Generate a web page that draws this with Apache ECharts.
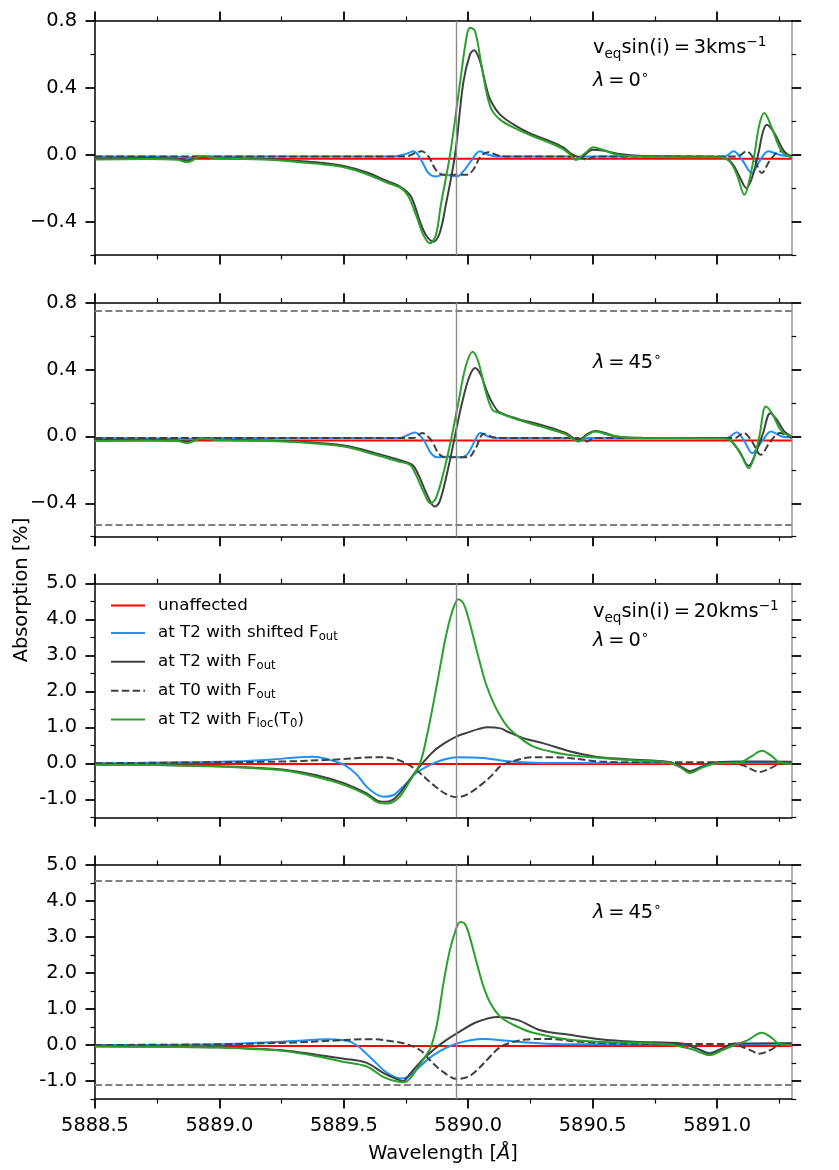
<!DOCTYPE html>
<html>
<head>
<meta charset="utf-8">
<script src="https://cdn.jsdelivr.net/npm/echarts@6/dist/echarts.min.js"></script>
<style>
html, body { margin: 0; padding: 0; background: #fff; }
#chart { width: 839px; height: 1170px; }
</style>
</head>
<body>
<div id="chart"></div>
<script>
// wavelength axis (Angstrom)
var wlMin = 5888.5, wlMax = 5891.3
var wlMajor = [5888.5, 5889.0, 5889.5, 5890.0, 5890.5, 5891.0]
var wlMinor = [5888.75, 5889.25, 5889.75, 5890.25, 5890.75, 5891.25]
var lineCentre = 5889.95

// absorption axes, 3 km/s panels and 20 km/s panels
var smallRange = [-0.6, 0.8]
var smallMajor = [-0.4, 0.0, 0.4, 0.8]
var smallMinor = [-0.6, -0.2, 0.2, 0.6]
var bigRange = [-1.5, 5.0]
var bigMajor = [-1, 0, 1, 2, 3, 4, 5]
var bigMinor = [-1.5, -0.5, 0.5, 1.5, 2.5, 3.5, 4.5]

// extreme levels of the lambda=0 panels, repeated as dashed guides at lambda=45
var p2Levels = [0.752, -0.526]
var p4Levels = [4.56, -1.11]

// ---- panel 1: 3 km/s, lambda = 0
var p1Red = [[5888.5,-0.024],[5891.3,-0.024]]
var p1Blue = [[5888.5,-0.01],[5888.85,-0.012],[5888.87,-0.02],[5888.9,-0.01],[5889.7,-0.01],[5889.75,0.005],[5889.78,0.02],[5889.81,-0.03],[5889.84,-0.11],[5889.87,-0.13],[5889.9,-0.12],[5889.93,-0.125],[5889.954,-0.13],[5889.98,-0.1],[5890.01,-0.04],[5890.047,0.02],[5890.08,0.0],[5890.114,-0.01],[5890.4,-0.01],[5890.436,-0.03],[5890.47,-0.01],[5891.03,-0.01],[5891.066,0.02],[5891.1,-0.03],[5891.14,-0.11],[5891.17,-0.04],[5891.206,0.02],[5891.25,0.0],[5891.3,-0.01]]
var p1Black = [[5888.5,-0.022],[5888.7,-0.02],[5888.83,-0.025],[5888.87,-0.035],[5888.93,-0.012],[5888.98,-0.018],[5889.1,-0.022],[5889.2,-0.025],[5889.32,-0.038],[5889.42,-0.05],[5889.5,-0.068],[5889.59,-0.105],[5889.67,-0.155],[5889.73,-0.195],[5889.77,-0.25],[5889.806,-0.4],[5889.83,-0.48],[5889.86,-0.52],[5889.885,-0.47],[5889.91,-0.3],[5889.947,0.0],[5889.98,0.43],[5890.007,0.6],[5890.023,0.625],[5890.045,0.57],[5890.07,0.42],[5890.088,0.33],[5890.128,0.24],[5890.2,0.165],[5890.26,0.12],[5890.33,0.08],[5890.38,0.045],[5890.42,0.0],[5890.45,-0.015],[5890.5,0.03],[5890.54,0.025],[5890.6,0.006],[5890.7,-0.008],[5890.9,-0.012],[5891.02,-0.015],[5891.06,-0.05],[5891.09,-0.13],[5891.118,-0.2],[5891.14,-0.14],[5891.165,0.0],[5891.185,0.14],[5891.2,0.18],[5891.23,0.13],[5891.27,0.02],[5891.3,-0.012]]
var p1Dash = [[5888.5,-0.01],[5889.75,-0.01],[5889.79,0.012],[5889.813,0.02],[5889.84,-0.01],[5889.87,-0.09],[5889.9,-0.12],[5889.95,-0.12],[5889.994,-0.12],[5890.02,-0.09],[5890.05,-0.01],[5890.08,0.015],[5890.12,-0.005],[5890.15,-0.01],[5890.44,-0.01],[5890.476,-0.03],[5890.51,-0.01],[5891.08,-0.01],[5891.118,0.02],[5891.15,-0.03],[5891.18,-0.11],[5891.21,-0.04],[5891.253,0.02],[5891.3,-0.01]]
var p1Green = [[5888.5,-0.028],[5888.7,-0.025],[5888.83,-0.03],[5888.87,-0.045],[5888.93,-0.008],[5888.98,-0.02],[5889.1,-0.026],[5889.2,-0.03],[5889.32,-0.045],[5889.42,-0.058],[5889.5,-0.075],[5889.59,-0.115],[5889.67,-0.165],[5889.73,-0.2],[5889.76,-0.25],[5889.79,-0.36],[5889.82,-0.48],[5889.846,-0.53],[5889.87,-0.48],[5889.89,-0.3],[5889.927,0.0],[5889.967,0.43],[5889.994,0.71],[5890.007,0.76],[5890.027,0.74],[5890.054,0.53],[5890.088,0.29],[5890.128,0.21],[5890.2,0.15],[5890.26,0.11],[5890.33,0.07],[5890.38,0.035],[5890.41,0.0],[5890.43,-0.03],[5890.47,0.01],[5890.503,0.044],[5890.54,0.03],[5890.6,0.0],[5890.7,-0.01],[5890.9,-0.015],[5891.01,-0.015],[5891.05,-0.04],[5891.08,-0.12],[5891.11,-0.24],[5891.13,-0.15],[5891.15,0.0],[5891.17,0.18],[5891.19,0.25],[5891.22,0.16],[5891.26,0.02],[5891.3,-0.015]]

// ---- panel 2: 3 km/s, lambda = 45
var p2Red = [[5888.5,-0.024],[5891.3,-0.024]]
var p2Blue = [[5888.5,-0.01],[5888.85,-0.012],[5888.87,-0.018],[5888.9,-0.01],[5889.72,-0.01],[5889.76,0.01],[5889.786,0.024],[5889.82,-0.02],[5889.85,-0.1],[5889.876,-0.125],[5889.92,-0.12],[5889.972,-0.125],[5890.0,-0.1],[5890.025,-0.03],[5890.049,0.02],[5890.08,0.0],[5890.12,-0.01],[5890.41,-0.01],[5890.443,-0.03],[5890.48,-0.01],[5891.04,-0.01],[5891.079,0.025],[5891.11,-0.03],[5891.141,-0.1],[5891.18,-0.03],[5891.217,0.03],[5891.26,0.0],[5891.3,-0.005]]
var p2Black = [[5888.5,-0.022],[5888.7,-0.02],[5888.83,-0.024],[5888.87,-0.032],[5888.93,-0.014],[5888.98,-0.018],[5889.1,-0.022],[5889.2,-0.025],[5889.32,-0.032],[5889.5,-0.055],[5889.627,-0.1],[5889.72,-0.14],[5889.775,-0.17],[5889.8,-0.23],[5889.835,-0.35],[5889.865,-0.42],[5889.885,-0.39],[5889.915,-0.22],[5889.945,-0.01],[5889.975,0.2],[5890.005,0.36],[5890.028,0.41],[5890.05,0.37],[5890.075,0.27],[5890.097,0.2],[5890.125,0.145],[5890.2,0.105],[5890.29,0.07],[5890.387,0.024],[5890.443,-0.02],[5890.48,0.015],[5890.512,0.033],[5890.55,0.02],[5890.595,0.0],[5890.7,-0.008],[5891.03,-0.01],[5891.051,-0.02],[5891.09,-0.09],[5891.127,-0.176],[5891.155,-0.1],[5891.185,0.02],[5891.214,0.139],[5891.24,0.1],[5891.27,0.03],[5891.3,0.0]]
var p2Dash = [[5888.5,-0.01],[5889.78,-0.01],[5889.814,0.02],[5889.85,-0.02],[5889.88,-0.1],[5889.904,-0.125],[5889.95,-0.125],[5890.0,-0.125],[5890.03,-0.07],[5890.063,0.016],[5890.1,-0.005],[5890.14,-0.01],[5890.44,-0.01],[5890.477,-0.03],[5890.51,-0.01],[5891.07,-0.01],[5891.107,0.02],[5891.14,-0.03],[5891.176,-0.11],[5891.21,-0.04],[5891.252,0.02],[5891.3,-0.01]]
var p2Green = [[5888.5,-0.028],[5888.7,-0.025],[5888.83,-0.028],[5888.87,-0.04],[5888.93,-0.012],[5888.98,-0.02],[5889.1,-0.025],[5889.2,-0.028],[5889.32,-0.035],[5889.5,-0.06],[5889.627,-0.11],[5889.72,-0.15],[5889.765,-0.17],[5889.79,-0.23],[5889.82,-0.33],[5889.848,-0.4],[5889.87,-0.37],[5889.9,-0.22],[5889.931,-0.02],[5889.96,0.2],[5889.99,0.42],[5890.018,0.507],[5890.04,0.45],[5890.07,0.27],[5890.097,0.16],[5890.125,0.14],[5890.2,0.1],[5890.29,0.06],[5890.387,0.016],[5890.443,-0.03],[5890.48,0.01],[5890.512,0.03],[5890.55,0.015],[5890.595,0.0],[5890.7,-0.01],[5891.02,-0.012],[5891.06,-0.03],[5891.1,-0.12],[5891.127,-0.19],[5891.15,-0.12],[5891.17,0.0],[5891.196,0.179],[5891.22,0.14],[5891.26,0.03],[5891.3,0.0]]

// ---- panel 3: 20 km/s, lambda = 0
var p3Red = [[5888.5,-0.02],[5891.3,-0.02]]
var p3Blue = [[5888.5,0.0],[5889.0,0.04],[5889.2,0.1],[5889.32,0.17],[5889.37,0.18],[5889.42,0.14],[5889.46,0.06],[5889.5,-0.04],[5889.55,-0.3],[5889.59,-0.64],[5889.63,-0.86],[5889.66,-0.93],[5889.7,-0.88],[5889.726,-0.73],[5889.76,-0.5],[5889.79,-0.27],[5889.86,0.0],[5889.91,0.12],[5889.954,0.17],[5890.06,0.15],[5890.17,0.05],[5890.3,0.01],[5890.8,0.01],[5890.85,-0.08],[5890.89,-0.22],[5890.94,-0.08],[5891.0,0.0],[5891.3,0.02]]
var p3Black = [[5888.5,-0.035],[5888.75,-0.045],[5889.0,-0.08],[5889.13,-0.12],[5889.26,-0.18],[5889.39,-0.33],[5889.5,-0.55],[5889.59,-0.83],[5889.64,-1.05],[5889.67,-1.07],[5889.7,-1.0],[5889.726,-0.82],[5889.76,-0.5],[5889.806,-0.08],[5889.86,0.33],[5889.91,0.58],[5889.954,0.75],[5890.0,0.86],[5890.04,0.95],[5890.08,1.0],[5890.13,0.97],[5890.155,0.89],[5890.22,0.7],[5890.3,0.56],[5890.4,0.35],[5890.47,0.24],[5890.53,0.17],[5890.67,0.1],[5890.8,0.04],[5890.85,-0.07],[5890.89,-0.22],[5890.94,-0.1],[5891.0,0.03],[5891.1,0.05],[5891.3,0.04]]
var p3Dash = [[5888.5,0.0],[5889.0,0.03],[5889.26,0.05],[5889.45,0.1],[5889.64,0.17],[5889.7,0.13],[5889.75,0.0],[5889.79,-0.18],[5889.86,-0.6],[5889.91,-0.85],[5889.954,-0.94],[5890.0,-0.85],[5890.06,-0.55],[5890.1,-0.3],[5890.13,-0.08],[5890.2,0.1],[5890.26,0.17],[5890.33,0.17],[5890.4,0.15],[5890.53,0.05],[5890.67,0.03],[5891.0,0.03],[5891.1,-0.05],[5891.17,-0.24],[5891.22,-0.12],[5891.25,-0.02],[5891.3,0.0]]
var p3Green = [[5888.5,-0.04],[5888.75,-0.05],[5889.0,-0.09],[5889.13,-0.13],[5889.26,-0.2],[5889.39,-0.38],[5889.5,-0.6],[5889.59,-0.87],[5889.64,-1.1],[5889.67,-1.12],[5889.7,-1.07],[5889.726,-0.92],[5889.76,-0.55],[5889.806,0.0],[5889.835,0.8],[5889.86,1.67],[5889.885,2.6],[5889.91,3.52],[5889.935,4.2],[5889.961,4.56],[5889.98,4.45],[5890.0,4.05],[5890.02,3.52],[5890.045,2.85],[5890.07,2.23],[5890.1,1.7],[5890.13,1.3],[5890.16,1.0],[5890.2,0.75],[5890.26,0.47],[5890.33,0.33],[5890.4,0.24],[5890.53,0.15],[5890.67,0.08],[5890.8,0.03],[5890.85,-0.1],[5890.89,-0.27],[5890.94,-0.12],[5891.0,0.0],[5891.09,0.02],[5891.14,0.2],[5891.18,0.35],[5891.22,0.2],[5891.25,0.03],[5891.3,-0.01]]

// ---- panel 4: 20 km/s, lambda = 45
var p4Red = [[5888.5,-0.03],[5891.3,-0.03]]
var p4Blue = [[5888.5,0.0],[5889.0,0.02],[5889.32,0.12],[5889.43,0.16],[5889.5,0.13],[5889.53,0.08],[5889.56,-0.05],[5889.59,-0.24],[5889.63,-0.5],[5889.66,-0.7],[5889.7,-0.88],[5889.73,-0.93],[5889.76,-0.88],[5889.79,-0.7],[5889.86,-0.28],[5889.954,0.04],[5890.06,0.17],[5890.17,0.11],[5890.26,0.06],[5890.4,0.02],[5890.86,0.02],[5890.92,-0.1],[5890.97,-0.22],[5891.02,-0.1],[5891.07,0.02],[5891.3,0.04]]
var p4Black = [[5888.5,-0.035],[5888.75,-0.045],[5889.0,-0.065],[5889.13,-0.1],[5889.26,-0.15],[5889.39,-0.27],[5889.5,-0.38],[5889.59,-0.49],[5889.66,-0.78],[5889.72,-0.97],[5889.74,-1.0],[5889.76,-0.85],[5889.79,-0.61],[5889.82,-0.38],[5889.86,-0.14],[5889.9,0.08],[5889.954,0.32],[5890.035,0.64],[5890.12,0.78],[5890.2,0.69],[5890.29,0.41],[5890.4,0.29],[5890.53,0.16],[5890.67,0.09],[5890.86,0.04],[5890.92,-0.1],[5890.97,-0.24],[5891.02,-0.1],[5891.07,0.04],[5891.3,0.05]]
var p4Dash = [[5888.5,0.0],[5889.0,0.02],[5889.3,0.07],[5889.45,0.12],[5889.61,0.16],[5889.7,0.1],[5889.75,0.03],[5889.806,-0.14],[5889.85,-0.45],[5889.89,-0.7],[5889.954,-0.94],[5890.0,-0.88],[5890.035,-0.7],[5890.08,-0.38],[5890.13,-0.05],[5890.18,0.08],[5890.23,0.15],[5890.32,0.17],[5890.45,0.09],[5890.6,0.04],[5890.8,0.03],[5891.05,0.03],[5891.12,-0.1],[5891.17,-0.24],[5891.22,-0.12],[5891.25,0.0],[5891.3,0.02]]
var p4Green = [[5888.5,-0.04],[5888.75,-0.05],[5889.0,-0.07],[5889.13,-0.11],[5889.26,-0.17],[5889.39,-0.31],[5889.5,-0.47],[5889.59,-0.59],[5889.66,-0.89],[5889.72,-1.02],[5889.745,-1.03],[5889.77,-0.9],[5889.79,-0.7],[5889.82,-0.4],[5889.85,-0.05],[5889.875,0.6],[5889.9,1.7],[5889.925,2.6],[5889.95,3.2],[5889.968,3.42],[5889.985,3.38],[5890.0,3.15],[5890.035,2.26],[5890.06,1.65],[5890.09,1.15],[5890.13,0.78],[5890.2,0.5],[5890.26,0.34],[5890.4,0.15],[5890.53,0.09],[5890.8,0.02],[5890.9,-0.12],[5890.97,-0.28],[5891.02,-0.15],[5891.07,0.0],[5891.12,0.12],[5891.18,0.34],[5891.22,0.2],[5891.25,0.03],[5891.3,0.0]]

var names = ['unaffected', 'at T2 with shifted F_out', 'at T2 with F_out', 'at T0 with F_out', 'at T2 with F_loc(T_0)']
var legendRich = {
    'unaffected': '{g|}{t|unaffected}',
    'at T2 with shifted F_out': '{g|}{t|at T2 with shifted F}{s|out}',
    'at T2 with F_out': '{g|}{t|at T2 with F}{s|out}',
    'at T0 with F_out': '{g|}{t|at T0 with F}{s|out}',
    'at T2 with F_loc(T_0)': '{g|}{t|at T2 with F}{s|loc}{t|(T}{s|0}{t|)}'
}

var FONT = 'DejaVu Sans'
var colors = ['#ff0000', '#1e90ff', '#404040', '#404040', '#2ca02c']
var panels = [
    {curves: [p1Red, p1Blue, p1Black, p1Dash, p1Green], big: false, levels: null},
    {curves: [p2Red, p2Blue, p2Black, p2Dash, p2Green], big: false, levels: p2Levels},
    {curves: [p3Red, p3Blue, p3Black, p3Dash, p3Green], big: true, levels: null},
    {curves: [p4Red, p4Blue, p4Black, p4Dash, p4Green], big: true, levels: p4Levels}
]
var gridTops = [21, 302.7, 583.3, 865]

var grids = [], xAxes = [], yAxes = [], series = []

function tickAxis(kind, g, pos, range, ticks, long, line, label) {
    var a = {
        gridIndex: g, type: 'value', position: pos, min: range[0], max: range[1],
        splitLine: {show: false},
        axisLine: line ? {show: true, onZero: false, lineStyle: {color: line, width: 1.5}} : {show: false, onZero: false},
        axisTick: {show: true, inside: false, customValues: ticks, length: long ? 9.5 : 4.5,
                   lineStyle: {color: '#000', width: long ? 1.8 : 1.2}},
        axisLabel: {show: false}
    }
    if (label) {
        a.axisLabel = {show: true, customValues: ticks, formatter: label,
                       margin: kind == 'x' ? 17 : 18, padding: kind == 'x' ? 0 : [4, 0, 0, 0],
                       color: '#000', fontSize: 19.4, fontFamily: FONT}
    }
    return a
}

panels.forEach(function (p, g) {
    grids.push({left: 95, right: 47.3, top: gridTops[g], height: 234})
    var yr = p.big ? bigRange : smallRange
    var yMaj = p.big ? bigMajor : smallMajor
    var yMin = p.big ? bigMinor : smallMinor
    var xLab = g == 3 ? function (v) { return v.toFixed(1) } : null
    var yLab = p.big ? function (v) { return v.toFixed(1) }
                     : function (v) { return v.toFixed(1).replace('-', '\u2212') }
    xAxes.push(tickAxis('x', g, 'bottom', [wlMin, wlMax], wlMajor, true, '#000', xLab))
    xAxes.push(tickAxis('x', g, 'bottom', [wlMin, wlMax], wlMinor, false, null, null))
    xAxes.push(tickAxis('x', g, 'top', [wlMin, wlMax], wlMajor, true, '#000', null))
    xAxes.push(tickAxis('x', g, 'top', [wlMin, wlMax], wlMinor, false, null, null))
    yAxes.push(tickAxis('y', g, 'left', yr, yMaj, true, '#000', yLab))
    yAxes.push(tickAxis('y', g, 'left', yr, yMin, false, null, null))
    yAxes.push(tickAxis('y', g, 'right', yr, yMaj, true, '#9a9a9a', null))
    yAxes.push(tickAxis('y', g, 'right', yr, yMin, false, null, null))

    p.curves.forEach(function (c, k) {
        var s = {
            type: 'line', name: names[k], xAxisIndex: g * 4, yAxisIndex: g * 4,
            data: c, symbol: 'none', showSymbol: false, smooth: 0.35,
            lineStyle: {color: colors[k], width: 2, type: k == 3 ? [7.5, 3.3] : 'solid'},
            itemStyle: {color: colors[k]},
            emphasis: {disabled: true}
        }
        if (k == 4) {
            var ml = [{xAxis: lineCentre, lineStyle: {color: '#8c8c8c', width: 1.4, type: 'solid'}}]
            if (p.levels) p.levels.forEach(function (v) {
                ml.push({yAxis: v, lineStyle: {color: '#808080', width: 2, type: [7, 3.3]}})
            })
            s.markLine = {silent: true, symbol: ['none', 'none'], label: {show: false}, data: ml}
        }
        series.push(s)
    })
})

var vsini = '{t|v}{s|eq}{t|sin(i)\u2009=\u2009KMS}{p|\u22121}'
var lam = function (deg) { return '{it|\u03bb}{t|\u2009=\u2009' + deg + '}{p|\u2218}' }
var chart = echarts.init(document.getElementById('chart'))
var textRich = {
    t: {fontFamily: FONT, fontSize: 19.4, lineHeight: 26, color: '#000'},
    it: {fontFamily: FONT, fontSize: 19.4, fontStyle: 'italic', lineHeight: 26, color: '#000'},
    s: {fontFamily: FONT, fontSize: 13.6, lineHeight: 12, verticalAlign: 'bottom', color: '#000'},
    p: {fontFamily: FONT, fontSize: 13.6, lineHeight: 14, verticalAlign: 'top', color: '#000'}
}
function note(x, y, txt) {
    return {type: 'text', x: x, y: y, silent: true,
            style: {text: txt, rich: textRich, verticalAlign: 'middle', fill: '#000', font: '19.4px ' + FONT}}
}

chart.setOption({
    animation: false,
    textStyle: {fontFamily: FONT},
    grid: grids,
    xAxis: xAxes,
    yAxis: yAxes,
    legend: {
        data: names, orient: 'vertical', left: 105, top: 592,
        itemWidth: 34, itemHeight: 20, itemGap: 10.4, selectedMode: false,
        itemStyle: {opacity: 0},
        formatter: function (n) { return legendRich[n] },
        textStyle: {
            color: '#000', fontSize: 16.7, fontFamily: FONT,
            rich: {
                g: {width: 8},
                t: {fontSize: 16.7, lineHeight: 20, fontFamily: FONT, color: '#000'},
                s: {fontSize: 11.7, lineHeight: 10, verticalAlign: 'bottom', fontFamily: FONT, color: '#000'}
            }
        }
    },
    graphic: [
        note(593, 48, vsini.replace('KMS', '3kms')),
        note(593, 81, lam('0')),
        note(593, 363, lam('45')),
        note(593, 612, vsini.replace('KMS', '20kms')),
        note(593, 641, lam('0')),
        note(593, 913, lam('45')),
        {type: 'text', x: 22, y: 590, rotation: Math.PI / 2, silent: true,
         style: {text: 'Absorption [%]', align: 'center', verticalAlign: 'middle', fill: '#000', font: '19.4px ' + FONT}},
        {type: 'text', x: 443, y: 1154, silent: true,
         style: {text: '{t|Wavelength [}{it|\u00c5}{t|]}', rich: textRich, align: 'center', verticalAlign: 'middle', fill: '#000', font: '19.4px ' + FONT}}
    ],
    series: series
})
</script>
</body>
</html>
